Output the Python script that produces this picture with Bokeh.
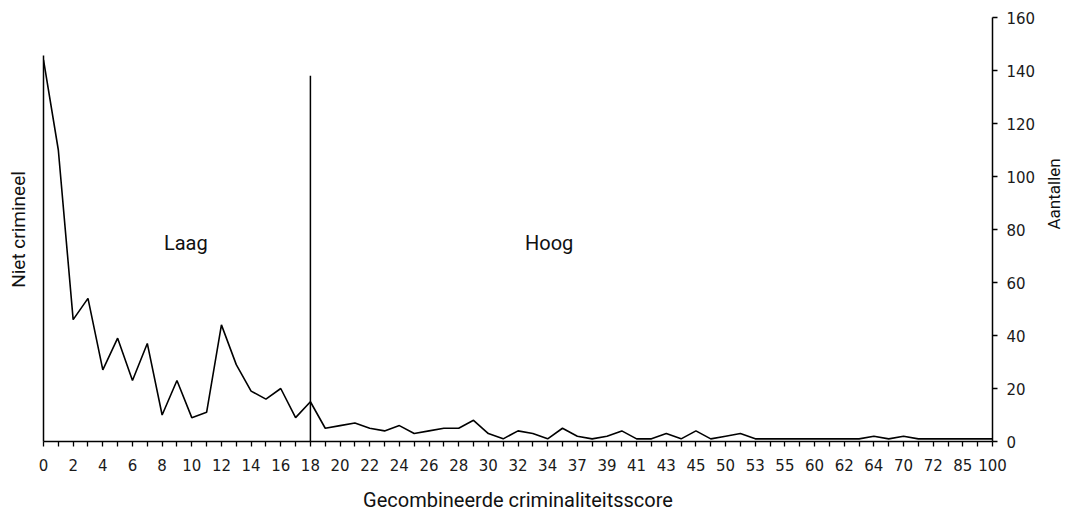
import math
from bokeh.plotting import figure
from bokeh.models import LinearAxis, FixedTicker, ColumnDataSource, Range1d
from bokeh.core.properties import value
from bokeh.embed import file_html
from bokeh.resources import INLINE

# ---- data ----
categories = [str(i) for i in range(35)] + [
    "36", "37", "38", "39", "40", "41", "42", "43", "44", "45",
    "48", "50", "52", "53", "54", "55", "58", "60", "61", "62",
    "63", "64", "66", "70", "71", "72", "80", "85", "90", "100"]
counts = [144, 110, 46, 54, 27, 39, 23, 37, 10, 23, 9, 11, 44, 29, 19, 16, 20, 9, 15,
          5, 6, 7, 5, 4, 6, 3, 4, 5, 5, 8, 3, 1, 4, 3, 1, 5, 2, 1, 2, 4, 1, 1, 3, 1, 4,
          1, 2, 3, 1, 1, 1, 1, 1, 1, 1, 1, 2, 1, 2, 1, 1, 1, 1, 1, 1]
cutoff_category = "18"
cutoff_height = 138
zone_names = ["Laag", "Hoog"]
zone_x = [9.6, 34.1]
zone_y = [75, 75]
y_ticks = [0, 20, 40, 60, 80, 100, 120, 140, 160]

idx = list(range(len(categories)))
cut_idx = categories.index(cutoff_category)

FONT = "Roboto"
TICKFONT = "DejaVu Sans"
INK = "#111111"

p = figure(width=1077, height=516, output_backend="svg", toolbar_location=None,
           x_range=Range1d(0, len(categories) - 1), y_range=Range1d(0, 160),
           y_axis_location="right", min_border_left=43, min_border_right=84,
           min_border_top=17, min_border_bottom=75)
p.outline_line_color = None
p.border_fill_color = "white"
p.xgrid.visible = False
p.ygrid.visible = False
p.background_fill_color = "white"

src = ColumnDataSource(dict(x=idx, y=counts))
p.line("x", "y", source=src, line_color="black", line_width=1.6)
p.segment(x0=[cut_idx], y0=[0], x1=[cut_idx], y1=[cutoff_height], line_color="black", line_width=1.5)
p.text(x=zone_x, y=zone_y, text=zone_names, text_font=value(FONT), text_font_size="20px",
       text_align="center", text_baseline="middle", text_color=INK)

# bottom axis
xa = p.xaxis[0]
xa.ticker = FixedTicker(ticks=idx)
xa.major_label_overrides = {i: (categories[i] if i % 2 == 0 else "") for i in idx}
xa.major_tick_out = 5
xa.major_tick_in = 0
xa.minor_tick_out = 0
xa.minor_tick_in = 0
xa.axis_line_width = 1.5
xa.major_tick_line_width = 1.3
xa.major_label_text_font = TICKFONT
xa.major_label_text_font_size = "15px"
xa.major_label_text_color = "#1a1a1a"
xa.major_label_standoff = 12
xa.axis_label = "Gecombineerde criminaliteitsscore"
xa.axis_label_text_font = FONT
xa.axis_label_text_font_size = "20px"
xa.axis_label_text_font_style = "normal"
xa.axis_label_text_color = INK
xa.axis_label_standoff = 14

# right axis
ya = p.yaxis[0]
ya.ticker = FixedTicker(ticks=y_ticks)
ya.major_tick_out = 5
ya.major_tick_in = 0
ya.minor_tick_out = 0
ya.minor_tick_in = 0
ya.axis_line_width = 1.5
ya.major_tick_line_width = 1.3
ya.major_label_text_font = TICKFONT
ya.major_label_text_font_size = "15px"
ya.major_label_text_color = "#1a1a1a"
ya.major_label_standoff = 9
ya.axis_label = "Aantallen"
ya.axis_label_text_font = FONT
ya.axis_label_text_font_size = "17px"
ya.axis_label_text_font_style = "normal"
ya.axis_label_text_color = INK
ya.axis_label_standoff = 16
ya.axis_label_orientation = math.pi / 2

# left axis (line only)
la = LinearAxis(ticker=FixedTicker(ticks=[]), bounds=(0, 145.5))
la.major_tick_out = 0
la.major_tick_in = 0
la.minor_tick_out = 0
la.minor_tick_in = 0
la.axis_line_width = 1.5
la.axis_label = "Niet crimineel"
la.axis_label_text_font = FONT
la.axis_label_text_font_size = "19px"
la.axis_label_text_font_style = "normal"
la.axis_label_text_color = INK
la.axis_label_standoff = 14
p.add_layout(la, "left")

open("out.html", "w").write(file_html(p, INLINE))
